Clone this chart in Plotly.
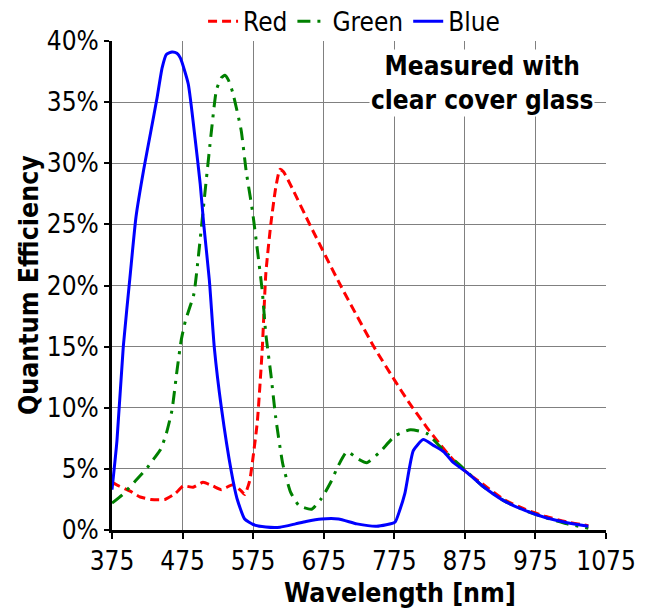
import plotly.graph_objects as go

# Red channel
red_nm = [375, 385, 400, 415, 430, 450, 465, 476, 490, 504, 518, 530, 546, 558, 563,
          570, 575, 581, 588, 593, 600, 607, 613, 618, 630, 656, 698, 746, 776, 795,
          821, 840, 859, 880, 897, 930, 960, 990, 1020, 1050]
red_qe = [3.9, 3.6, 3.2, 2.7, 2.5, 2.5, 3.0, 3.6, 3.5, 3.9, 3.6, 3.3, 3.7, 3.2, 2.9,
          4.0, 6.0, 8.9, 14.9, 21.0, 25.0, 28.0, 29.5, 29.3, 28.0, 24.9, 20.1, 15.0, 12.2, 10.5,
          8.4, 7.0, 5.7, 4.6, 3.9, 2.5, 1.7, 1.1, 0.65, 0.35]

# Green channel
green_nm = [375, 390, 408, 425, 434, 444, 452, 460, 467, 473, 479, 491, 498, 506, 516, 523,
            530, 535, 540, 546, 558, 565, 574, 581, 588, 593, 600, 607, 617, 628, 640,
            658, 672, 684, 696, 708, 724, 736, 755, 776, 798, 821, 845, 868, 900, 930,
            960, 990, 1020, 1050]
green_qe = [2.2, 2.9, 4.0, 5.1, 5.8, 6.6, 7.9, 9.8, 13.0, 15.5, 17.1, 19.3, 22.7, 27.2, 32.7, 36.0,
            37.0, 37.2, 36.8, 35.8, 32.7, 29.4, 26.1, 22.9, 19.5, 16.0, 12.8, 9.2, 5.4, 3.1, 2.0,
            1.7, 2.6, 3.8, 5.3, 6.4, 5.8, 5.5, 6.4, 7.7, 8.2, 7.9, 6.5, 5.3, 3.6, 2.4,
            1.6, 1.0, 0.5, 0.15]

# Blue channel
blue_nm = [375, 382, 391, 401, 409, 420, 430, 439, 446, 452, 460, 467, 472, 483, 493,
           500, 505, 513, 520, 530, 544, 552, 563, 575, 593, 613, 635, 650, 672,
           696, 722, 750, 776, 782, 790, 802, 816, 831, 845, 859, 878, 900, 930, 960,
           990, 1020, 1050]
blue_qe = [3.3, 7.3, 15.0, 21.0, 25.6, 29.5, 32.6, 35.4, 37.8, 38.9, 39.1, 39.0, 38.6, 36.5, 31.9,
           28.3, 25.0, 20.4, 14.9, 10.0, 4.8, 2.6, 0.9, 0.45, 0.25, 0.23, 0.5, 0.7, 0.9,
           0.9, 0.5, 0.3, 0.64, 1.5, 3.0, 6.5, 7.4, 6.9, 6.4, 5.5, 4.7, 3.6, 2.4, 1.6,
           1.0, 0.6, 0.3]

x_ticks = [375, 475, 575, 675, 775, 875, 975, 1075]
y_ticks = [0, 5, 10, 15, 20, 25, 30, 35, 40]

FONT = "DejaVu Sans Condensed, DejaVu Sans, sans-serif"
FS = 26

fig = go.Figure()
fig.add_trace(go.Scatter(x=red_nm, y=[v / 100 for v in red_qe], name="Red", mode="lines",
                         line=dict(color="#ff0000", width=3, dash="9px,5px", shape="spline", smoothing=0.5)))
fig.add_trace(go.Scatter(x=green_nm, y=[v / 100 for v in green_qe], name="Green", mode="lines",
                         line=dict(color="#008000", width=3, dash="13px,7px,3px,7px", shape="spline", smoothing=0.5)))
fig.add_trace(go.Scatter(x=blue_nm, y=[v / 100 for v in blue_qe], name="Blue", mode="lines",
                         line=dict(color="#0000ff", width=3, shape="spline", smoothing=0.5)))

fig.update_layout(
    width=641, height=602,
    margin=dict(l=104, r=43, t=33, b=80, autoexpand=False),
    paper_bgcolor="white", plot_bgcolor="white",
    font=dict(family=FONT, size=FS, color="black"),
    showlegend=True,
    legend=dict(orientation="h", x=0.49, xanchor="center", yref="container", y=0.978, yanchor="middle",
                font=dict(size=FS), itemwidth=30, tracegroupgap=0,
                bgcolor="rgba(0,0,0,0)"),
    xaxis=dict(range=[375, 1075], tickvals=x_ticks, ticktext=[str(t) for t in x_ticks],
               showgrid=True, gridcolor="#808080", gridwidth=1,
               showline=True, linecolor="black", linewidth=3,
               ticks="outside", ticklen=6, tickwidth=2, tickcolor="black",
               tickfont=dict(size=FS), zeroline=False),
    yaxis=dict(range=[0, 0.40], tickvals=[v / 100 for v in y_ticks],
               ticktext=[f"{v}%" for v in y_ticks],
               showgrid=True, gridcolor="#808080", gridwidth=1,
               showline=True, linecolor="black", linewidth=3,
               ticks="outside", ticklen=5, tickwidth=2, tickcolor="black",
               tickfont=dict(size=FS), zeroline=False),
    annotations=[
        dict(text="<b>Measured with<br>clear cover glass</b>", x=0.749, y=0.914,
             xref="paper", yref="paper", xanchor="center", yanchor="middle",
             showarrow=False, bgcolor="white", font=dict(size=26, family=FONT)),
        dict(text="<b>Wavelength [nm]</b>", x=0.583, y=-0.128, xref="paper", yref="paper",
             xanchor="center", yanchor="middle", showarrow=False, font=dict(size=26.5, family=FONT)),
        dict(text="<b>Quantum Efficiency</b>", x=-0.169, y=0.5, xref="paper", yref="paper",
             xanchor="center", yanchor="middle", textangle=-90, showarrow=False,
             font=dict(size=26.5, family=FONT)),
    ],
)

fig.write_html("out.html")
